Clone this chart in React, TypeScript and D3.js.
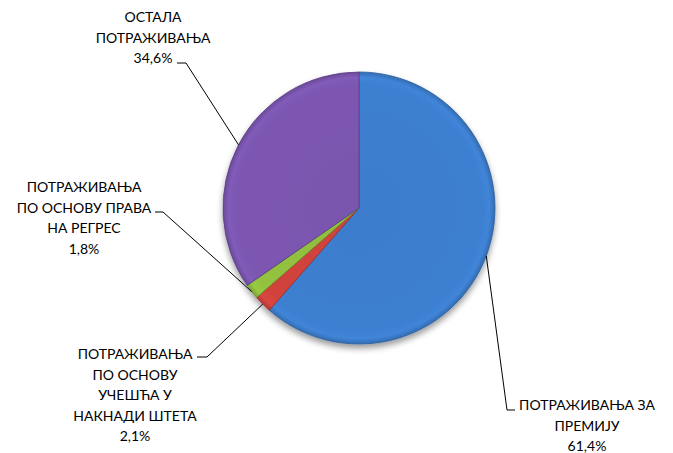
import React from "react";
import * as d3 from "d3";

const categories = [
  ["ПОТРАЖИВАЊА ЗА", "ПРЕМИЈУ"],
  ["ПОТРАЖИВАЊА", "ПО ОСНОВУ", "УЧЕШЋА У", "НАКНАДИ ШТЕТА"],
  ["ПОТРАЖИВАЊА", "ПО ОСНОВУ ПРАВА", "НА РЕГРЕС"],
  ["ОСТАЛА", "ПОТРАЖИВАЊА"],
];
const values = [61.4, 2.1, 1.8, 34.6];
const valueLabels = ["61,4%", "2,1%", "1,8%", "34,6%"];
const colors = ["#3D7FD0", "#D2433E", "#93C13F", "#7C57B1"];
const strokes = ["#2A5E9E", "#9A2E2B", "#6A8E2A", "#5A3E85"];

// layout: label block center x, first line baseline y, elbow point, horizontal end
const labelLayout = [
  { cx: 587, y0: 410, elbow: [507, 410], end: [515, 410] },
  { cx: 135, y0: 359, elbow: [207, 357], end: [197, 357] },
  { cx: 84, y0: 192, elbow: [163, 212], end: [155, 212] },
  { cx: 153, y0: 22, elbow: [186, 63], end: [177, 63] },
];

const W = 673;
const H = 453;
const CX = 359;
const CY = 208;
const R = 136;
const LH = 20.6;

export default function App() {
  const pie = d3
    .pie<number>()
    .sort(null)
    .value((d) => d)
    .startAngle(0)
    .endAngle(2 * Math.PI);
  const arcs = pie(values);
  const arc = d3.arc<d3.PieArcDatum<number>>().innerRadius(0).outerRadius(R);
  const edgeArc = d3.arc<d3.PieArcDatum<number>>().innerRadius(R).outerRadius(R);

  return (
    <div style={{ position: "fixed", left: 0, top: 0 }}>
      <svg width={W} height={H} style={{ display: "block", background: "#fff" }}>
        <defs>
          <filter id="shadow" x="-20%" y="-20%" width="140%" height="140%">
            <feGaussianBlur in="SourceAlpha" stdDeviation="3" />
            <feOffset dx="0" dy="4" result="b" />
            <feComponentTransfer>
              <feFuncA type="linear" slope="0.4" />
            </feComponentTransfer>
            <feMerge>
              <feMergeNode />
              <feMergeNode in="SourceGraphic" />
            </feMerge>
          </filter>
          {colors.map((c, i) => (
            <radialGradient
              key={i}
              id={`g${i}`}
              gradientUnits="userSpaceOnUse"
              cx={0}
              cy={0}
              r={R}
            >
              <stop offset="0%" stopColor={d3.color(c)!.darker(0.06).toString()} />
              <stop offset="90%" stopColor={c} />
              <stop offset="96%" stopColor={d3.color(c)!.brighter(0.12).toString()} />
              <stop offset="100%" stopColor={d3.color(c)!.darker(0.45).toString()} />
            </radialGradient>
          ))}
        </defs>
        <g transform={`translate(${CX},${CY})`} filter="url(#shadow)">
          {arcs.map((a, i) => (
            <path
              key={i}
              d={arc(a) || ""}
              fill={`url(#g${i})`}
              stroke={strokes[i]}
              strokeWidth={0.8}
              strokeLinejoin="round"
            />
          ))}
        </g>
        {arcs.map((a, i) => {
          const [px, py] = edgeArc.centroid(a);
          const L = labelLayout[i];
          const pts = [[CX + px, CY + py], L.elbow, L.end];
          const line = d3.line()(pts as [number, number][]);
          return <path key={i} d={line || ""} fill="none" stroke="#000" strokeWidth={1} />;
        })}
        {arcs.map((a, i) => {
          const L = labelLayout[i];
          const lines = [...categories[i], valueLabels[i]];
          return (
            <text
              key={i}
              textAnchor="middle"
              fontFamily="Lato, 'Open Sans', sans-serif"
              fontSize={14}
              fill="#000"
            >
              {lines.map((t, j) => (
                <tspan key={j} x={L.cx} y={L.y0 + j * LH}>
                  {t}
                </tspan>
              ))}
            </text>
          );
        })}
      </svg>
    </div>
  );
}
